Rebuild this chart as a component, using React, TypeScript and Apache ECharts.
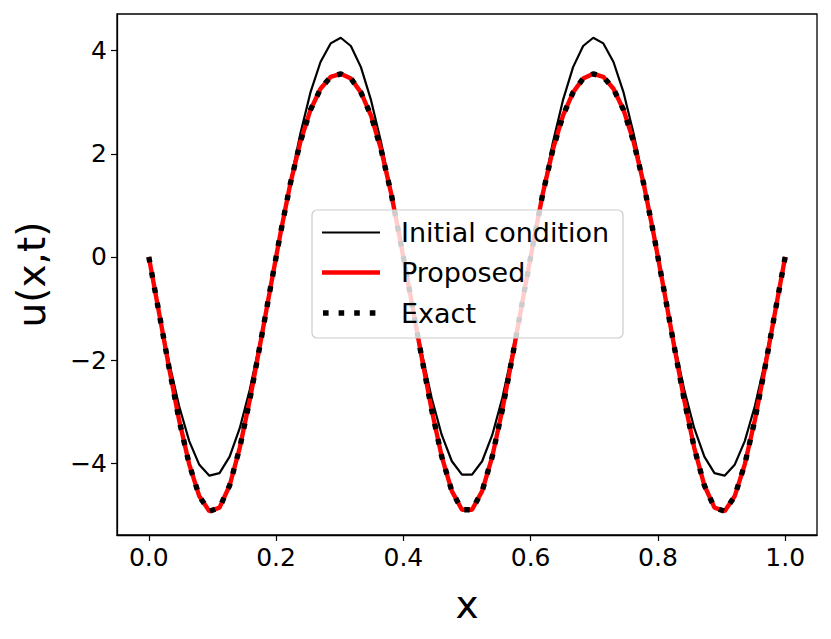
import React, { useEffect, useRef } from "react";
import * as echarts from "echarts";

const xs = [
  0, 0.0159, 0.0317, 0.0476, 0.0635, 0.0794, 0.0952, 0.1111, 0.127, 0.1429, 0.1587, 0.1746, 0.1905, 0.2063, 0.2222, 0.2381,
  0.254, 0.2698, 0.2857, 0.3016, 0.3175, 0.3333, 0.3492, 0.3651, 0.381, 0.3968, 0.4127, 0.4286, 0.4444, 0.4603, 0.4762, 0.4921,
  0.5079, 0.5238, 0.5397, 0.5556, 0.5714, 0.5873, 0.6032, 0.619, 0.6349, 0.6508, 0.6667, 0.6825, 0.6984, 0.7143, 0.7302, 0.746,
  0.7619, 0.7778, 0.7937, 0.8095, 0.8254, 0.8413, 0.8571, 0.873, 0.8889, 0.9048, 0.9206, 0.9365, 0.9524, 0.9683, 0.9841, 1,
];

const initialCondition = [
  0, -1.05, -2.03, -2.89, -3.57, -4.03, -4.24, -4.19, -3.87, -3.32, -2.57, -1.65, -0.63, 0.42, 1.45, 2.39,
  3.19, 3.78, 4.14, 4.25, 4.09, 3.68, 3.04, 2.22, 1.25, 0.21, -0.84, -1.84, -2.73, -3.45, -3.96, -4.22,
  -4.22, -3.96, -3.45, -2.73, -1.84, -0.84, 0.21, 1.25, 2.22, 3.04, 3.68, 4.09, 4.25, 4.14, 3.78, 3.19,
  2.39, 1.45, 0.42, -0.63, -1.65, -2.57, -3.32, -3.87, -4.19, -4.24, -4.03, -3.57, -2.89, -2.03, -1.05, 0,
];

const proposed = [
  0, -1.07, -2.14, -3.16, -4.02, -4.64, -4.93, -4.86, -4.43, -3.7, -2.77, -1.72, -0.64, 0.42, 1.41, 2.23,
  2.85, 3.26, 3.49, 3.55, 3.46, 3.19, 2.74, 2.08, 1.22, 0.21, -0.85, -1.93, -2.96, -3.87, -4.54, -4.9,
  -4.9, -4.54, -3.87, -2.96, -1.93, -0.85, 0.21, 1.22, 2.08, 2.74, 3.19, 3.46, 3.55, 3.49, 3.26, 2.85,
  2.23, 1.41, 0.42, -0.64, -1.72, -2.77, -3.7, -4.43, -4.86, -4.93, -4.64, -4.02, -3.16, -2.14, -1.07, 0,
];

const exact = [
  0, -1.07, -2.14, -3.16, -4.02, -4.64, -4.93, -4.86, -4.43, -3.7, -2.77, -1.72, -0.64, 0.42, 1.41, 2.23,
  2.85, 3.26, 3.49, 3.55, 3.46, 3.19, 2.74, 2.08, 1.22, 0.21, -0.85, -1.93, -2.96, -3.87, -4.54, -4.9,
  -4.9, -4.54, -3.87, -2.96, -1.93, -0.85, 0.21, 1.22, 2.08, 2.74, 3.19, 3.46, 3.55, 3.49, 3.26, 2.85,
  2.23, 1.41, 0.42, -0.64, -1.72, -2.77, -3.7, -4.43, -4.86, -4.93, -4.64, -4.02, -3.16, -2.14, -1.07, 0,
];

const xTicks = [0, 0.2, 0.4, 0.6, 0.8, 1.0];
const yTicks = [-4, -2, 0, 2, 4];
const legendNames = ["Initial condition", "Proposed", "Exact"];

const FONT = "DejaVu Sans";

export default function App() {
  const ref = useRef<HTMLDivElement>(null);
  useEffect(() => {
    document.body.style.margin = "0";
    if (!ref.current) return;
    const chart = echarts.init(ref.current, undefined, { renderer: "svg" });
    const pair = (ys: number[]) => xs.map((x, i) => [x, ys[i]]);
    const legendX = 312;
    const legendY = 210;
    const rowY = [232.5, 272.5, 313];
    const Z = 100;
    chart.setOption({
      animation: false,
      backgroundColor: "#ffffff",
      grid: {
        left: 117,
        right: 14,
        top: 14,
        bottom: 104,
        show: true,
        borderColor: "#000",
        borderWidth: 1.3,
        backgroundColor: "transparent",
      },
      xAxis: {
        type: "value",
        min: -0.05,
        max: 1.05,
        name: "x",
        nameLocation: "middle",
        nameGap: 50,
        nameTextStyle: { fontFamily: FONT, fontSize: 39, color: "#000" },
        axisLine: { show: true, onZero: false, lineStyle: { color: "#000", width: 1.3 } },
        axisTick: {
          show: true,
          length: 6,
          lineStyle: { color: "#000", width: 1.2 },
          customValues: xTicks,
        },
        axisLabel: {
          show: true,
          margin: 10,
          fontFamily: FONT,
          fontSize: 25,
          color: "#000",
          customValues: xTicks,
          formatter: (v: number) => v.toFixed(1),
        },
        splitLine: { show: false },
      },
      yAxis: {
        type: "value",
        min: -5.39,
        max: 4.71,
        name: "u(x,t)",
        nameLocation: "middle",
        nameGap: 66,
        nameRotate: 90,
        nameTextStyle: { fontFamily: FONT, fontSize: 39, color: "#000" },
        axisLine: { show: true, onZero: false, lineStyle: { color: "#000", width: 1.3 } },
        axisTick: {
          show: true,
          length: 6,
          lineStyle: { color: "#000", width: 1.2 },
          customValues: yTicks,
        },
        axisLabel: {
          show: true,
          margin: 10,
          fontFamily: FONT,
          fontSize: 25,
          color: "#000",
          customValues: yTicks,
          formatter: (v: number) => (v < 0 ? "\u2212" + Math.abs(v) : String(v)),
        },
        splitLine: { show: false },
      },
      series: [
        {
          name: legendNames[0],
          type: "line",
          data: pair(initialCondition),
          showSymbol: false,
          symbol: "none",
          lineStyle: { color: "#000", width: 2.2 },
          z: 2,
        },
        {
          name: legendNames[1],
          type: "line",
          data: pair(proposed),
          showSymbol: false,
          symbol: "none",
          lineStyle: { color: "#ff0000", width: 4.4 },
          z: 3,
        },
        {
          name: legendNames[2],
          type: "line",
          data: pair(exact),
          showSymbol: false,
          symbol: "none",
          lineStyle: { color: "#000", width: 5.4, type: [5.5, 10], cap: "butt" },
          z: 4,
        },
      ],
      graphic: {
        elements: [
          {
            type: "rect",
            z: Z,
            shape: { x: legendX, y: legendY, width: 311, height: 128, r: 5 },
            style: { fill: "rgba(255,255,255,0.8)", stroke: "#cccccc", lineWidth: 1.2 },
          },
          {
            type: "line",
            z: Z + 1,
            shape: { x1: 322, y1: rowY[0], x2: 380, y2: rowY[0] },
            style: { stroke: "#000", lineWidth: 2.2 },
          },
          {
            type: "line",
            z: Z + 1,
            shape: { x1: 322, y1: rowY[1], x2: 380, y2: rowY[1] },
            style: { stroke: "#ff0000", lineWidth: 4.4 },
          },
          {
            type: "line",
            z: Z + 1,
            shape: { x1: 323, y1: rowY[2], x2: 380, y2: rowY[2] },
            style: { stroke: "#000", lineWidth: 5.6, lineDash: [5.6, 10], lineCap: "butt" },
          },
          ...legendNames.map((n, i) => ({
            type: "text",
            z: Z + 1,
            x: 401,
            y: rowY[i],
            style: {
              text: n,
              fontFamily: FONT,
              fontSize: 27,
              fill: "#000",
              verticalAlign: "middle",
            },
          })),
        ],
      },
    });
    return () => chart.dispose();
  }, []);
  return <div ref={ref} style={{ width: 831, height: 639 }} />;
}
